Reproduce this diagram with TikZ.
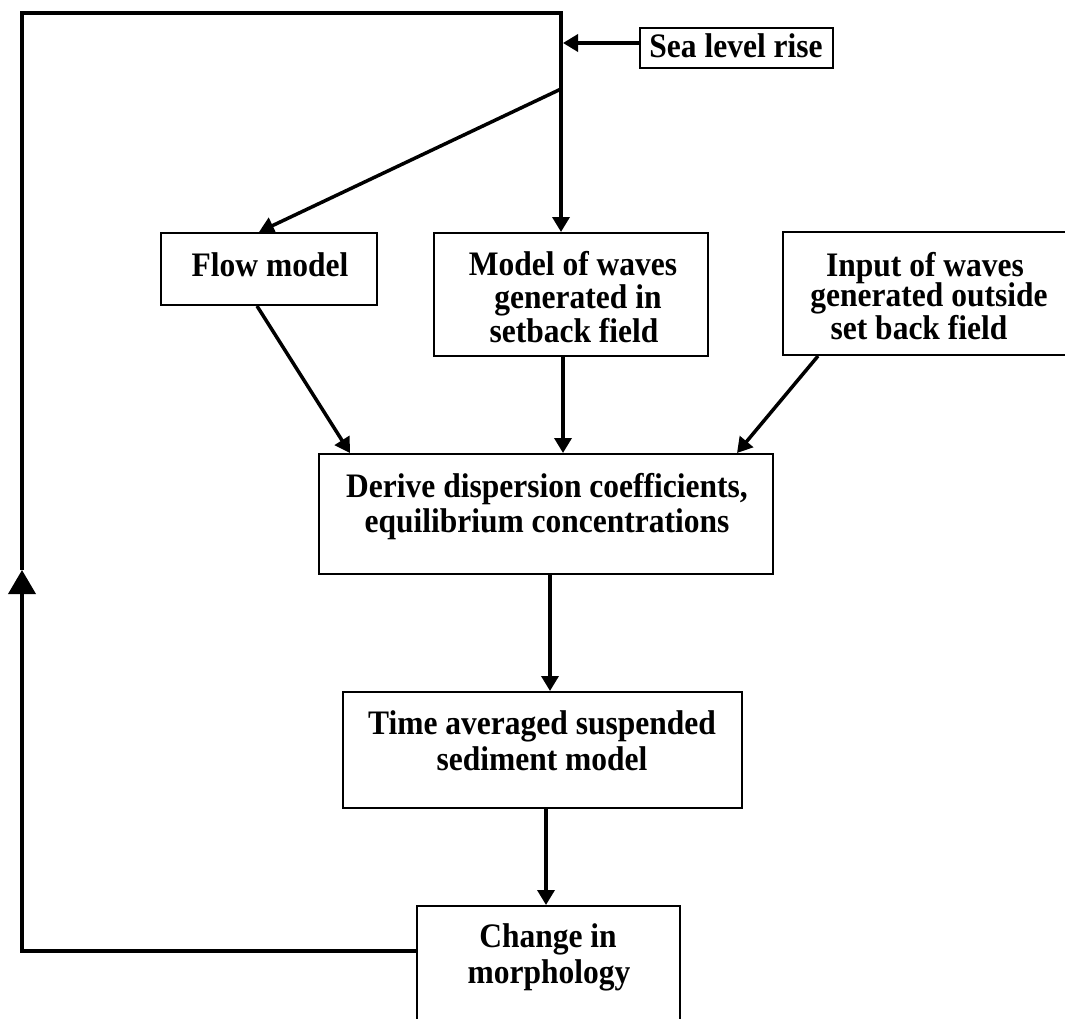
\documentclass[tikz,border=0pt]{standalone}
\usepackage{fontspec}
\setmainfont{Liberation Serif}
\usetikzlibrary{arrows.meta}
\newcommand{\tallt}[1]{\scalebox{1}[1.09]{#1}}
\begin{document}
\begin{tikzpicture}[x=1pt,y=-1pt,
  box/.style={draw, line width=2pt, inner sep=0pt, fill=white},
  lbl/.style={anchor=base, inner sep=0pt, font=\fontsize{31.5}{36}\selectfont\bfseries},
  conn/.style={line width=3.8pt},
  arr/.style={line width=3.5pt, -{Triangle[length=15pt,width=17pt]}},
  bigarr/.style={conn, -{Triangle[length=24pt,width=27pt]}},
]
\useasboundingbox (0,0) rectangle (1065,1019);
\clip (0,0) rectangle (1065,1019);
\fill[white] (0,0) rectangle (1065,1019);

% boxes
\node[box, minimum width=193pt, minimum height=40pt]  (sea)    at (736.5,48)  {};
\node[box, minimum width=216pt, minimum height=72pt]  (flow)   at (269,269)   {};
\node[box, minimum width=274pt, minimum height=123pt] (model)  at (571,294.5) {};
\node[box, minimum width=317pt, minimum height=123pt] (input)  at (941.5,293.5) {};
\node[box, minimum width=454pt, minimum height=120pt] (derive) at (546,514)   {};
\node[box, minimum width=399pt, minimum height=116pt] (time)   at (542.5,750) {};
\node[box, minimum width=263pt, minimum height=154pt] (change) at (548.5,983) {};

% texts
\node[lbl] (tsea)    at (736,58)  {\tallt{Sea level rise}};
\node[lbl] (tflow)   at (270,276) {\tallt{Flow model}};
\node[lbl] (tmodel1) at (573,275) {\tallt{Model of waves}};
\node[lbl] (tmodel2) at (578,308) {\tallt{generated in}};
\node[lbl] (tmodel3) at (574,342) {\tallt{setback field}};
\node[lbl] (tinput1) at (925,276) {\tallt{Input of waves}};
\node[lbl] (tinput2) at (929,306) {\tallt{generated outside}};
\node[lbl] (tinput3) at (919,339) {\tallt{set back field}};
\node[lbl] (tder1)   at (547,497) {\tallt{Derive dispersion coefficients,}};
\node[lbl] (tder2)   at (547,532) {\tallt{equilibrium concentrations}};
\node[lbl] (ttime1)  at (542,734) {\tallt{Time averaged suspended}};
\node[lbl] (ttime2)  at (542,770) {\tallt{sediment model}};
\node[lbl] (tch1)    at (548,947) {\tallt{Change in}};
\node[lbl] (tch2)    at (549,983) {\tallt{morphology}};

% coordinates of the feedback loop
\coordinate (j)    at (561,89);
\coordinate (tl)   at (22,13);
\coordinate (up)   at (22,570);
\coordinate (seain) at (563,43);

% feedback loop
\draw[bigarr] ([yshift=32pt]change.west) -| (up);
\draw[conn] (up) -- (tl) -| (j);

% sea level rise input
\draw[arr] ([yshift=5pt]sea.west) -- (seain);

% from junction
\draw[arr] (j) -- (j |- model.north);
\draw[arr] (j) -- ([xshift=99pt]flow.north west);

% to derive
\draw[arr] ([xshift=97pt]flow.south west) -- ([xshift=32pt]derive.north west);
\draw[arr] ([xshift=-8pt]model.south) -- ([xshift=-8pt]model.south |- derive.north);
\draw[arr] ([xshift=36pt]input.south west) -- ([xshift=-37pt]derive.north east);

% down the chain
\draw[arr] ([xshift=4pt]derive.south) -- ([xshift=4pt]derive.south |- time.north);
\draw[arr] ([xshift=3.5pt]time.south) -- ([xshift=3.5pt]time.south |- change.north);
\end{tikzpicture}
\end{document}
